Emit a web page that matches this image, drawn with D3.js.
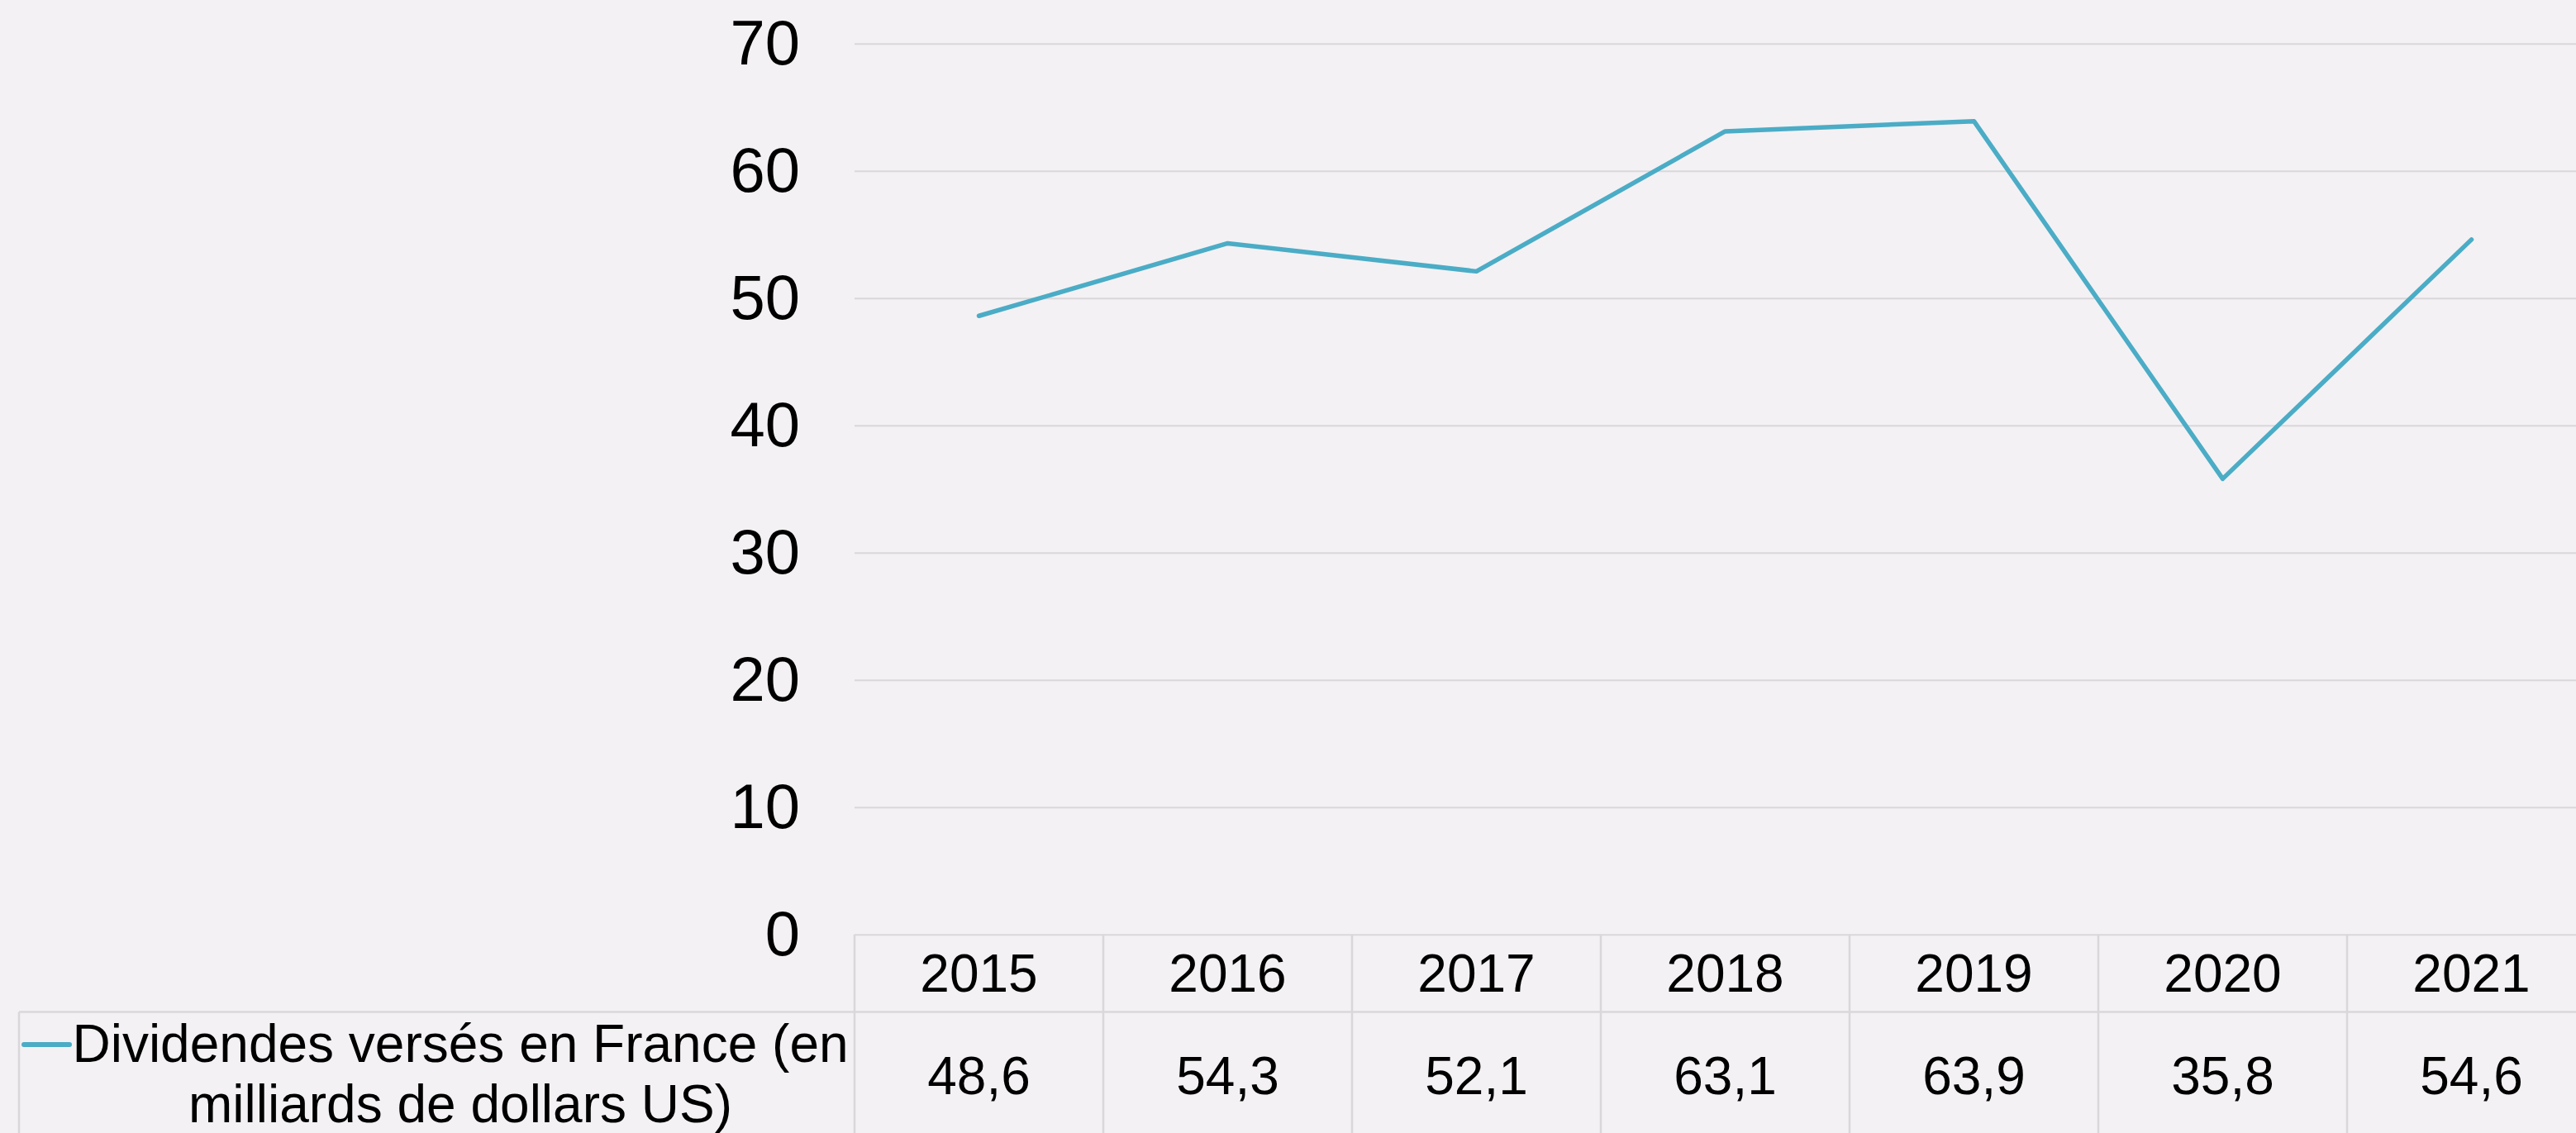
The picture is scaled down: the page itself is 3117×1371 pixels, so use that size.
<!DOCTYPE html>
<html>
<head>
<meta charset="utf-8">
<script src="https://cdn.jsdelivr.net/npm/d3@7"></script>
<style>
  html, body { margin: 0; padding: 0; background: #f3f1f4; overflow: hidden; }
  svg { display: block; font-family: "Liberation Sans", Arial, sans-serif; }
</style>
</head>
<body>
<div id="chart"></div>
<script>
// data
var years = ['2015', '2016', '2017', '2018', '2019', '2020', '2021'];
var values = [48.6, 54.3, 52.1, 63.1, 63.9, 35.8, 54.6];
var yTicks = [0, 10, 20, 30, 40, 50, 60, 70];
var seriesName = ['Dividendes versés en France (en', 'milliards de dollars US)'];

var chart_width = 3117;
var chart_height = 1371;
var plot_left = 1034;
var col_w = 301;
var plot_top = 52.7;
var plot_bottom = 1130.7;
var row1_bottom = 1224.5;
var grid_color = '#d9d7da';
var line_color = '#4bacc6';

var svg = d3.select('#chart')
    .append('svg')
    .attr('width', chart_width)
    .attr('height', chart_height);

svg.append('rect')
    .attr('width', chart_width)
    .attr('height', chart_height)
    .attr('fill', '#f3f1f4');

// scales
var x_scale = d3.scaleBand()
    .domain(years)
    .range([plot_left, plot_left + col_w * years.length]);

var y_scale = d3.scaleLinear()
    .domain([0, 70])
    .range([plot_bottom, plot_top]);

// y axis with gridlines
var y_axis = d3.axisLeft(y_scale)
    .tickValues(yTicks)
    .tickSize(-(col_w * years.length))
    .tickPadding(66)
    .tickFormat(d => d);

var gy = svg.append('g')
    .attr('class', 'y-axis')
    .attr('transform', `translate(${plot_left}, 0)`)
    .call(y_axis);

gy.select('.domain').remove();
gy.selectAll('line')
    .attr('stroke', grid_color)
    .attr('stroke-width', 2);
gy.selectAll('text')
    .attr('fill', '#000')
    .attr('font-size', 76)
    .attr('font-family', '"Liberation Sans", Arial, sans-serif');

// data table
var table = svg.append('g').attr('class', 'table');

// horizontal line between years and values (spans legend cell too)
table.append('line')
    .attr('x1', 23).attr('x2', chart_width + 50)
    .attr('y1', row1_bottom).attr('y2', row1_bottom)
    .attr('stroke', grid_color).attr('stroke-width', 2.5);

// column separators
var edges = years.map(d => x_scale(d));
table.selectAll('.col-line')
    .data(edges)
    .enter()
    .append('line')
    .attr('x1', d => d).attr('x2', d => d)
    .attr('y1', plot_bottom).attr('y2', chart_height + 20)
    .attr('stroke', grid_color).attr('stroke-width', 2.5);

// legend cell left border
table.append('line')
    .attr('x1', 23).attr('x2', 23)
    .attr('y1', row1_bottom).attr('y2', chart_height + 20)
    .attr('stroke', grid_color).attr('stroke-width', 2.5);

table.selectAll('.year')
    .data(years)
    .enter()
    .append('text')
    .attr('x', d => x_scale(d) + x_scale.bandwidth() / 2)
    .attr('y', 1200)
    .attr('text-anchor', 'middle')
    .attr('font-size', 64)
    .text(d => d);

table.selectAll('.val')
    .data(values)
    .enter()
    .append('text')
    .attr('x', (d, i) => x_scale(years[i]) + x_scale.bandwidth() / 2)
    .attr('y', 1324)
    .attr('text-anchor', 'middle')
    .attr('font-size', 64)
    .text(d => d3.format('.1f')(d).replace('.', ','));

// legend key + series name
table.append('line')
    .attr('x1', 29).attr('x2', 84)
    .attr('y1', 1264).attr('y2', 1264)
    .attr('stroke', line_color).attr('stroke-width', 6)
    .attr('stroke-linecap', 'round');

table.selectAll('.legend-text')
    .data(seriesName)
    .enter()
    .append('text')
    .attr('x', 557)
    .attr('y', (d, i) => 1285 + i * 73)
    .attr('text-anchor', 'middle')
    .attr('font-size', 64)
    .text(d => d);

// line
var line = d3.line()
    .x((d, i) => x_scale(years[i]) + x_scale.bandwidth() / 2)
    .y(d => y_scale(d));

svg.append('path')
    .datum(values)
    .attr('d', line)
    .attr('fill', 'none')
    .attr('stroke', line_color)
    .attr('stroke-width', 5.5)
    .attr('stroke-linejoin', 'round')
    .attr('stroke-linecap', 'round');
</script>
</body>
</html>
